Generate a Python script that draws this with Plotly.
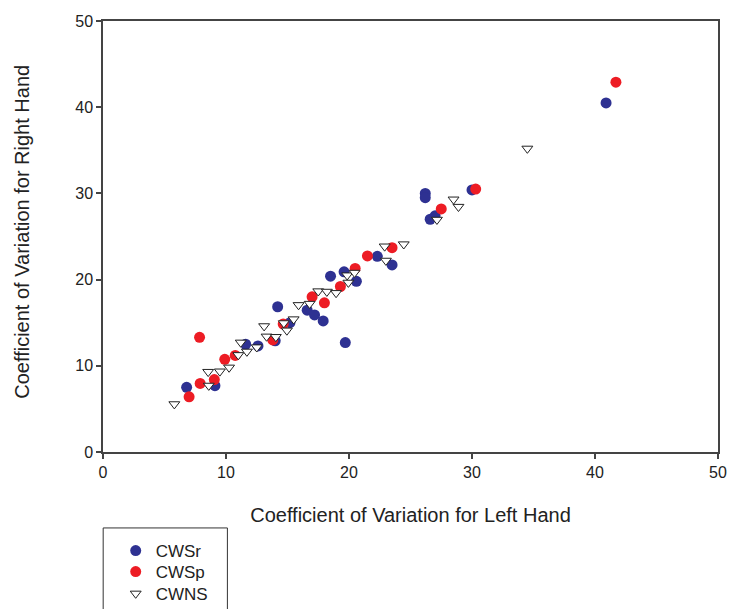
import plotly.graph_objects as go

# CWSr (blue)
cwsr_x = [6.8, 9.1, 11.6, 12.6, 14.0, 14.2, 15.2, 16.6, 17.2, 17.9, 18.5, 19.6, 20.6,
          19.7, 22.3, 23.5, 26.2, 26.2, 26.6, 27.0, 30.0, 40.9]
cwsr_y = [7.5, 7.7, 12.5, 12.3, 12.9, 16.85, 15.0, 16.45, 15.9, 15.2, 20.4, 20.9, 19.8,
          12.7, 22.7, 21.7, 30.0, 29.5, 27.0, 27.4, 30.4, 40.5]

# CWSp (red)
cwsp_x = [7.0, 7.9, 7.85, 9.05, 9.9, 10.75, 13.8, 14.65, 17.0, 18.0, 19.3, 20.5, 21.5,
          23.5, 27.5, 30.3, 41.7]
cwsp_y = [6.4, 7.95, 13.3, 8.4, 10.75, 11.2, 13.0, 14.85, 18.0, 17.3, 19.2, 21.3, 22.75,
          23.7, 28.2, 30.5, 42.9]

# CWNS (open triangles)
cwns_x = [5.8, 8.6, 8.55, 9.5, 10.25, 11.0, 11.7, 11.2, 12.5, 13.1, 13.3, 14.05, 14.95,
          14.7, 15.5, 15.9, 16.8, 17.5, 18.2, 18.95, 19.95, 19.85, 20.45, 22.9, 23.0,
          24.45, 27.15, 28.5, 28.9, 34.5]
cwns_y = [5.55, 7.7, 9.3, 9.35, 9.8, 11.25, 11.65, 12.7, 12.15, 14.6, 13.4, 13.35, 14.1,
          14.95, 15.4, 17.05, 17.2, 18.65, 18.6, 18.45, 19.65, 20.5, 20.8, 23.85, 22.2,
          24.1, 26.95, 29.3, 28.45, 35.2]

tick_vals = [0, 10, 20, 30, 40, 50]
tick_text = ["0", "10", "20", "30", "40", "50"]

FONT = "Arial, Liberation Sans, sans-serif"
AX = "#444444"
W, H = 731, 609

fig = go.Figure()
fig.add_trace(go.Scatter(x=cwsr_x, y=cwsr_y, mode="markers", name="CWSr", legend="legend",
                         marker=dict(color="#2E3192", size=11, line=dict(width=0))))
fig.add_trace(go.Scatter(x=cwsp_x, y=cwsp_y, mode="markers", name="CWSp", legend="legend2",
                         marker=dict(color="#ED1C24", size=11, line=dict(width=0))))
fig.add_trace(go.Scatter(x=cwns_x, y=cwns_y, mode="markers", name="CWNS", legend="legend3",
                         marker=dict(symbol="triangle-down", color="white", size=9.5,
                                     line=dict(color="#222222", width=1))))

axis_common = dict(range=[0, 50], tickvals=tick_vals, ticktext=tick_text,
                   showgrid=False, zeroline=False, showline=True, linecolor=AX,
                   linewidth=1.5, mirror=True, ticks="outside", ticklen=5,
                   tickcolor=AX, tickwidth=1.5, automargin=False,
                   tickfont=dict(family=FONT, size=16, color="#222222"))

fig.update_xaxes(**axis_common,
                 title=dict(text="Coefficient of Variation for Left Hand", standoff=28,
                            font=dict(family=FONT, size=20, color="#222222")))
fig.update_yaxes(**axis_common)

# y-axis title as rotated text
fig.add_annotation(text="Coefficient of Variation for Right Hand", textangle=-90,
                   xref="paper", yref="paper", x=(22 - 102.5) / 615.5,
                   y=(452 - 232) / 431.3, xanchor="center", yanchor="middle",
                   showarrow=False, font=dict(family=FONT, size=20, color="#222222"))

# legend frame (extends below the visible area)
fig.add_shape(type="rect", xref="paper", yref="paper",
              x0=0.0003, x1=(227 - 102.5) / 615.5,
              y0=(452 - 640) / 431.3, y1=(452 - 528) / 431.3,
              line=dict(color="#333333", width=1), fillcolor="rgba(0,0,0,0)")


def leg(yc):
    return dict(xref="container", yref="container", x=115.7 / W, y=(H - yc) / H,
                xanchor="left", yanchor="middle", bgcolor="rgba(0,0,0,0)",
                borderwidth=0, font=dict(family=FONT, size=17, color="#222222"))


fig.update_layout(
    width=W, height=H,
    margin=dict(l=102.5, r=13, t=20.7, b=157, autoexpand=False),
    paper_bgcolor="white", plot_bgcolor="white",
    showlegend=True,
    legend=leg(551), legend2=leg(572), legend3=leg(594),
)

fig.write_html("out.html")
